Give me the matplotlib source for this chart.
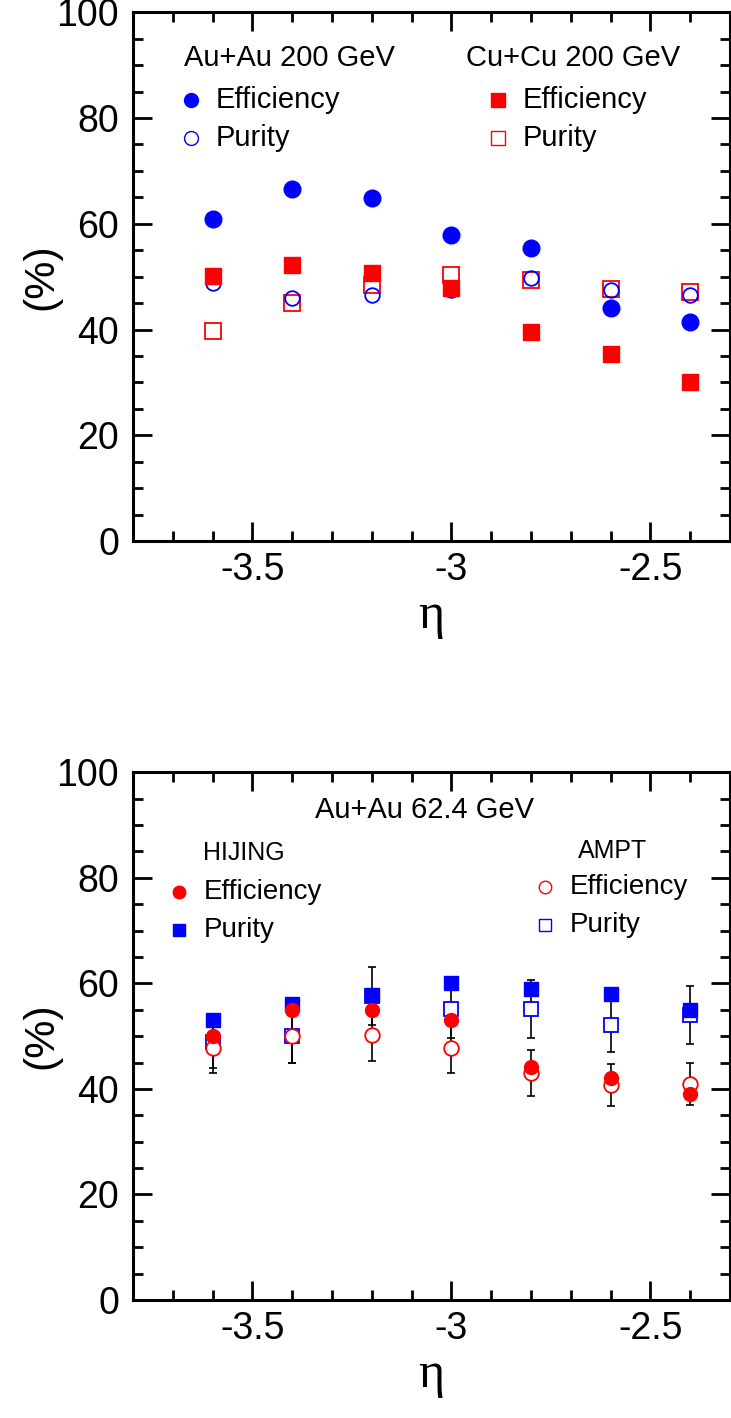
import matplotlib
matplotlib.use("Agg")
from matplotlib import pyplot as plt
from matplotlib.ticker import MultipleLocator
import numpy as np

plt.rcParams['font.family'] = ['Liberation Sans', 'DejaVu Sans']

eta = [-3.6, -3.4, -3.2, -3.0, -2.8, -2.6, -2.4]

# top panel, 200 GeV
auau_eff = [61.0, 66.5, 64.8, 57.8, 55.4, 44.0, 41.5]
auau_pur = [48.8, 46.0, 46.5, 47.4, 49.7, 47.4, 46.5]
cucu_eff = [50.2, 52.2, 50.6, 47.8, 39.5, 35.4, 30.1]
cucu_pur = [39.8, 45.0, 48.5, 50.3, 49.3, 47.6, 47.1]

# bottom panel, Au+Au 62.4 GeV
hij_eff = [50.0, 54.9, 54.9, 53.0, 44.1, 42.0, 39.0]
hij_pur = [53.0, 56.0, 57.8, 60.0, 59.0, 58.0, 54.9]
ampt_eff = [47.8, 50.0, 50.3, 47.7, 43.0, 40.7, 40.9]
ampt_eff_err = [4.7, 5.0, 5.0, 4.7, 4.3, 4.0, 4.0]
ampt_pur = [48.9, 50.0, 57.6, 55.1, 55.1, 52.2, 54.0]
ampt_pur_err = [4.9, 5.0, 5.5, 5.5, 5.5, 5.2, 5.5]

RED = '#ff0000'
BLUE = '#0000ff'


def style_axes(ax):
	ax.set_xlim(-3.8, -2.3)
	ax.set_ylim(0, 100)
	ax.xaxis.set_major_locator(MultipleLocator(0.5))
	ax.xaxis.set_minor_locator(MultipleLocator(0.1))
	ax.yaxis.set_major_locator(MultipleLocator(20))
	ax.yaxis.set_minor_locator(MultipleLocator(5))
	ax.set_xticks([-3.5, -3.0, -2.5])
	ax.set_xticklabels(['-3.5', '-3', '-2.5'])
	ax.tick_params(which='both', direction='in', top=True, right=True, width=2)
	ax.tick_params(which='major', length=14, labelsize=27, pad=8)
	ax.tick_params(which='minor', length=7)
	ax.tick_params(axis='y', which='major', pad=10)
	for s in ax.spines.values():
		s.set_linewidth(2.2)
	ax.set_xlabel('η', fontsize=36, labelpad=3, family=['Liberation Serif', 'DejaVu Serif'])
	ax.set_ylabel('(%)', fontsize=31, labelpad=0)
	ax.yaxis.set_label_coords(-0.12, 0.5)


def legend_item(ax, x, y, marker, color, filled, ms, label, size):
	ax.plot([x], [y], marker=marker, ls='none', ms=ms, color=color,
		mfc=color if filled else 'white', mew=1.0, transform=ax.transAxes, clip_on=False)
	ax.text(x + 0.042, y, label, transform=ax.transAxes, fontsize=size, va='center', ha='left')


fig = plt.figure(figsize=(7.31, 14.18), dpi=100)
ax1 = fig.add_axes([0.182, 0.6185, 0.8166, 0.3728])
ax2 = fig.add_axes([0.182, 0.0832, 0.8166, 0.3722])

# top panel
ax1.plot(eta, cucu_pur, 's', ms=11, mfc='none', mec=RED, mew=1.3, zorder=3)
ax1.plot(eta, auau_pur, 'o', ms=10.5, mfc='none', mec=BLUE, mew=1.3, zorder=3)
ax1.plot(eta, cucu_eff, 's', ms=11, color=RED, zorder=4)
ax1.plot(eta, auau_eff, 'o', ms=12, color=BLUE, zorder=4)
style_axes(ax1)

ax1.text(0.085, 0.914, 'Au+Au 200 GeV', transform=ax1.transAxes, fontsize=21, va='center')
legend_item(ax1, 0.097, 0.834, 'o', BLUE, True, 10, 'Efficiency', 21)
legend_item(ax1, 0.097, 0.762, 'o', BLUE, False, 10, 'Purity', 21)
ax1.text(0.558, 0.914, 'Cu+Cu 200 GeV', transform=ax1.transAxes, fontsize=21, va='center')
legend_item(ax1, 0.611, 0.834, 's', RED, True, 10, 'Efficiency', 21)
legend_item(ax1, 0.611, 0.762, 's', RED, False, 10, 'Purity', 21)

# bottom panel
ax2.errorbar(eta, ampt_pur, yerr=ampt_pur_err, fmt='none', ecolor='black', elinewidth=1.2, capsize=2.8, capthick=1.2, zorder=2)
ax2.errorbar(eta, ampt_eff, yerr=ampt_eff_err, fmt='none', ecolor='black', elinewidth=1.2, capsize=2.8, capthick=1.2, zorder=2)
ax2.plot(eta, ampt_pur, 's', ms=10.5, mfc='white', mec=BLUE, mew=1.3, zorder=3)
ax2.plot(eta, ampt_eff, 'o', ms=10.5, mfc='white', mec=RED, mew=1.3, zorder=3)
ax2.plot(eta, hij_pur, 's', ms=10, color=BLUE, zorder=4)
ax2.plot(eta, hij_eff, 'o', ms=10, color=RED, zorder=4)
style_axes(ax2)

ax2.text(0.489, 0.9286, 'Au+Au 62.4 GeV', transform=ax2.transAxes, fontsize=21, va='center', ha='center')
ax2.text(0.117, 0.847, 'HIJING', transform=ax2.transAxes, fontsize=18, va='center')
legend_item(ax2, 0.077, 0.773, 'o', RED, True, 9, 'Efficiency', 20)
legend_item(ax2, 0.077, 0.701, 's', BLUE, True, 9, 'Purity', 20)
ax2.text(0.745, 0.851, 'AMPT', transform=ax2.transAxes, fontsize=18, va='center')
legend_item(ax2, 0.690, 0.783, 'o', RED, False, 9, 'Efficiency', 20)
legend_item(ax2, 0.690, 0.711, 's', BLUE, False, 9, 'Purity', 20)

fig.savefig('out.png', dpi=100)
